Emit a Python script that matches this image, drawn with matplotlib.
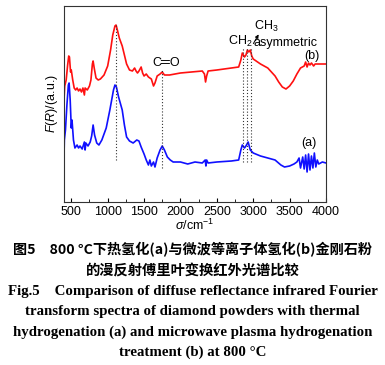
import matplotlib
matplotlib.use("Agg")
import matplotlib.pyplot as plt
from matplotlib.ticker import MultipleLocator

# Wavenumbers (cm^-1) and F(R) values (arbitrary units)
red_wn = [400, 410, 430, 450, 465, 475, 490, 500, 520, 540, 560, 580, 600, 620, 640, 660, 680, 690, 720, 750,
          770, 790, 800, 815, 840, 870, 900, 950, 1000, 1040, 1070, 1100, 1115, 1130, 1160, 1200, 1230, 1260,
          1300, 1340, 1370, 1390, 1410, 1430, 1460, 1480, 1500, 1530, 1560, 1600, 1630, 1650, 1680, 1720, 1750,
          1780, 1850, 2000, 2150, 2300, 2330, 2345, 2360, 2380, 2500, 2700, 2800, 2830, 2850, 2880, 2900, 2920,
          2940, 2960, 2980, 3000, 3100, 3200, 3300, 3350, 3400, 3450, 3500, 3550, 3600, 3650, 3700, 3720, 3740,
          3760, 3780, 3800, 3830, 3850, 3900, 4000]
red_val = [102, 116, 122, 137, 146, 145, 130, 132, 122, 114, 112, 114, 111, 113, 110, 114, 107, 114, 112, 116,
           122, 138, 141, 134, 124, 122, 123, 127, 136, 152, 167, 176, 177, 173, 164, 156, 147, 138,
           132, 131, 134, 131, 129, 131, 135, 129, 126, 128, 125, 123, 116, 119, 126, 128, 130,
           127, 127, 129, 130, 131, 128, 120, 126, 131, 132, 134, 135, 142, 149, 145, 147, 152,
           150, 152, 146, 143, 138, 134, 126, 120, 115, 113, 116, 121, 128, 134, 136, 140, 135,
           139, 137, 139, 136, 138, 138, 138]

blue_wn = [400, 405, 420, 440, 460, 470, 485, 500, 510, 530, 550, 580, 600, 620, 650, 680, 690, 700, 730, 760,
           780, 800, 820, 850, 880, 920, 980, 1030, 1080, 1100, 1120, 1150, 1200, 1230, 1260, 1300, 1350, 1400,
           1430, 1460, 1500, 1530, 1560, 1580, 1600, 1630, 1650, 1680, 1720, 1750, 1780, 1820, 1860, 1900, 2000,
           2100, 2200, 2300, 2340, 2350, 2360, 2380, 2500, 2700, 2800, 2830, 2850, 2880, 2900, 2930, 2960, 3000,
           3100, 3200, 3300, 3380, 3430, 3500, 3560, 3600, 3630, 3650, 3680, 3700, 3720, 3740, 3760, 3780, 3800,
           3820, 3840, 3860, 3880, 3900, 3950, 4000]
blue_val = [45, 62, 72, 97, 117, 119, 102, 74, 82, 62, 54, 57, 54, 56, 53, 60, 52, 59, 56, 60,
            66, 77, 67, 59, 57, 62, 74, 92, 112, 117, 115, 105, 92, 77, 65, 61, 59, 62,
            61, 55, 48, 42, 37, 42, 36, 40, 35, 44, 52, 56, 52, 45, 42, 40, 40,
            38, 40, 39, 42, 36, 42, 39, 40, 41, 42, 52, 57, 54, 56, 60, 52, 49,
            46, 44, 42, 37, 35, 36, 38, 40, 44, 34, 45, 33, 47, 30, 48, 32, 46,
            34, 49, 35, 42, 38, 40, 39]

# Dotted guide lines: position, lower and upper end
guide_wn = [1110, 1750, 2855, 2910, 2965]
guide_lo = [42, 34, 40, 40, 40]
guide_hi = [177, 132, 154, 154, 154]

xticks = [500, 1000, 1500, 2000, 2500, 3000, 3500, 4000]

plt.rcParams['font.family'] = ['Liberation Sans', 'DejaVu Sans']
plt.rcParams['mathtext.fontset'] = 'custom'
plt.rcParams['mathtext.rm'] = 'Liberation Sans'
plt.rcParams['mathtext.it'] = 'Liberation Sans:italic'

fig = plt.figure(figsize=(3.85, 3.65), dpi=100)
ax = fig.add_axes([64/385, 1-202/365, 262/385, 196/365])

ax.plot(red_wn, red_val, color='#ff1010', lw=1.2)
ax.plot(blue_wn, blue_val, color='#1010ff', lw=1.2)
for x, lo, hi in zip(guide_wn, guide_lo, guide_hi):
    ax.plot([x, x], [lo, hi], color='#333333', lw=0.8, ls=(0, (1, 1.8)))

ax.set_xlim(400, 4000)
ax.set_ylim(0, 196)
ax.set_xticks(xticks)
ax.xaxis.set_minor_locator(MultipleLocator(250))
ax.set_yticks([])
ax.tick_params(axis='x', which='major', direction='in', length=3, labelsize=9, pad=3)
ax.tick_params(axis='x', which='minor', direction='in', length=2)
for s in ax.spines.values():
    s.set_linewidth(0.8)
    s.set_color('#333333')

ax.set_xlabel(r'$\it{\sigma}$/cm$^{-1}$', fontsize=9, labelpad=0)
ax.set_ylabel(r'$\it{F}$($\it{R}$)/(a.u.)', fontsize=9, labelpad=3)

ax.text(1808, 139, 'C═O', fontsize=9, ha='center', va='center', family=['Liberation Sans', 'DejaVu Sans'])
ax.text(2818, 161, r'CH$_2$', fontsize=9, ha='center', va='center')
ax.text(3437, 159, 'asymmetric', fontsize=9, ha='center', va='center')
ax.text(3175, 176, r'CH$_3$', fontsize=9, ha='center', va='center')
ax.annotate('', xy=(3093, 170), xytext=(2983, 156),
            arrowprops=dict(arrowstyle='-|>', color='black', lw=0.7, mutation_scale=5))
ax.text(3800, 146, '(b)', fontsize=9, ha='center', va='center')
ax.text(3760, 59, '(a)', fontsize=9, ha='center', va='center')

cjk = ['Noto Sans CJK SC', 'DejaVu Sans']
fig.text(0.5, 1-250/365, '图5　800 °C下热氢化(a)与微波等离子体氢化(b)金刚石粉', ha='center', va='center',
         fontsize=10.2, family=cjk, weight='bold')
fig.text(0.5, 1-271/365, '的漫反射傅里叶变换红外光谱比较', ha='center', va='center',
         fontsize=10.3, family=cjk, weight='bold')
eng = ['Liberation Serif', 'DejaVu Serif']
lines = ['Fig.5    Comparison of diffuse reflectance infrared Fourier',
         'transform spectra of diamond powders with thermal',
         'hydrogenation (a) and microwave plasma hydrogenation',
         'treatment (b) at 800 °C']
ys = [292, 312, 332, 352]
for t, y in zip(lines, ys):
    fig.text(0.5, 1-y/365, t, ha='center', va='center', fontsize=10.7, family=eng, weight='bold')

fig.savefig('out.png', dpi=100)
